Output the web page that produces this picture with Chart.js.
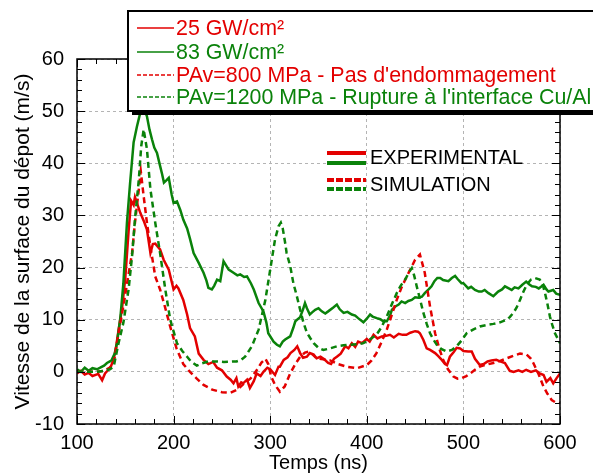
<!DOCTYPE html>
<html>
<head>
<meta charset="utf-8">
<script src="https://cdn.jsdelivr.net/npm/chart.js@4/dist/chart.umd.min.js"></script>
<style>
  body { margin: 0; background: #fff; }
</style>
</head>
<body>
<canvas id="chart" width="593" height="475"></canvas>
<script>
// --- data (t in ns, v in m/s) ---
var t25 = [100,104,108,112,116,122,126,129,132,135,138,140,143,146.5,150,153.4,156,158.6,160,162,165.5,169,172.4,176,178.5,181,186,189.7,195,200,203,205,210,214,217,222,226,231,236,241,245,250,255,259,262,265,267,270,272,276,279,283,286,290,293,297,300,305,308.6,310,314,318,321,325,328,331,334,338,341,345,348,352,356,360,363,366,369,373,377.6,381,384.5,388,391,395,400,403,407,411,415.5,420,424,428,433,437,441,445,450,453,455,458.6,462,465.5,470.7,474,477.6,481,483,486,490,493,496.6,500,505,508.6,512,517,521,525,529,534,538,543,548,552,557,561,565,570,575,579,583,586,590,593,596.5,600];
var v25 = [-0.3,0.2,-0.5,-0.2,-0.8,-0.4,-1.6,-0.3,0.3,1,2.5,4.2,8,12,18,27,32.8,32,33.5,32.4,30.5,29,27.3,22.8,24.5,24.6,23.5,21.5,19.6,15.8,16.5,16,13.8,11,8.4,6.8,3.5,2.3,1.5,1.9,0.8,0.3,-0.9,-1.5,-2.2,-1.2,-2.8,-2,-2.2,-1.5,-3.1,-1.8,-0.3,-0.8,0,0.8,0.5,-0.6,1,1,2.3,2.8,3.6,4.2,4.9,3.6,2.7,2.9,3.6,3.3,2.6,2.9,2.4,1.7,1.5,2.5,2.9,3.5,4.9,4.5,5.5,4.8,5.8,5.5,6.3,5.8,7.1,6.4,6.8,6.9,7.1,6.6,7.3,7.1,7.1,7.5,7.8,7.7,7.4,6.1,4.5,4.2,3.6,3,2.3,1.5,1.3,2.9,3.8,4.6,4.5,4,3.9,3.9,2.5,1.3,1.5,2,2.2,2.3,2,1.7,0.2,0,0.3,0,0.4,0,0.3,-0.3,-0.6,-1.9,-1.2,-2.2,-1.2,-0.3];

var t83 = [100,104,108,112,116,120.7,124,128,131,134,136,139,141.4,145,148,151.7,155,158.6,162,165.5,168,170,172.4,175,177.6,180,182.8,186,188,190,193,195,198,200,203.5,207,210,214,217,220.7,226,231,234,236,239.6,242,245,248.3,251.7,254,257,262,266,269,273,276,280,283,288,293,296,298,303.5,307,310,313,315.5,320.7,324,326,331,334,336,338,341,344,346.6,350,353.4,357,360,365,369,372,376,380,384.5,388,391,396.5,400,403.4,406,410.3,414,417,420.7,424,426,430,433,436,439.7,443,446.5,450,453.4,457,460,464,467,470,473,476,479,484.5,488,491.4,494,498,500,505,508,512,516,519,522,526,531,536,540,543,547,550,553,557,561,565,568,571,575,578,583,586,588,593,596,600];
var v83 = [0.5,0,0.8,0.2,0.7,0.5,0.8,1.2,1.7,2,2.3,3.5,5.5,10.6,17,28.6,36.3,44,47,49.7,50.5,50.2,49,46.5,44.6,43,42,39.5,38,36.3,36.8,37.2,34,32.4,32.7,31,29.2,27.5,25.5,22.8,20.9,19,17.5,16.1,15.8,16.5,17.7,17.4,21.2,20.5,19.6,19,18.5,18.7,18.2,18.3,17,15.8,13.2,11.6,9.5,7.4,5.8,5.2,4.9,5.8,6.2,6.8,8.5,9.7,10.5,12,13.2,12.2,11,11.5,11.9,12.2,11.6,11.2,11.6,12.3,12.9,12,11.3,11.5,11,10.8,10.3,9.5,10.2,11,10.6,10.3,10.1,9.7,9.7,10.8,11.9,12.6,12.9,13.5,13.2,13.6,13.8,14.3,14.2,14.4,15.1,15.8,16.4,17.4,18,18,17.6,17.4,18,18.4,17.8,17,17,16,16.3,15.7,15.4,15.4,15.7,15.1,14.5,15.4,15.8,16.4,16,15.7,16.2,16,16.7,17.3,16.8,16.4,16.3,16,16.7,15.8,15.4,15.7,15,14.8];

var tSim800 = [100,110,120,128,134,138,143,148,153,157,160,164,166,169,172.4,176,181,186,191,196,203,210,217,224,231,240,250,259,266,272,280,286,291,295,298,301,305,310,315,320.7,326,331,336,340,344,348,355,362,370,379,389.7,400,405,410,415,420.7,426,431,436,441.4,446,450,455,460,465.5,470.7,475,479,484,489.7,494,498,503,507,512,517,524,531,538,545,552,558.6,565.5,570,572.4,578,582.8,587,591.4,595,600];
var vSim800 = [0,0,0,0.2,0.8,1.7,7.4,12.6,18.3,22.8,28.6,35,38.5,33.7,28.6,24,18.3,15.8,12.5,9,4.5,1.5,0,-1.3,-2.5,-3.4,-3.9,-4,-3.4,-2.4,-1.2,0.3,1.8,2.5,1.5,-0.9,-2.5,-3.8,-2.8,-0.3,1.5,2.9,3.7,3.9,3.3,2.6,2.4,2.2,1.5,1,0.7,1.3,2.2,3.6,5.6,8.1,11,13.8,16.2,18.3,20,21.5,22.5,19,12.5,7.4,4.5,2.3,0.5,-0.9,-1.3,-1.2,-0.8,-0.3,0.4,1,1.4,1.7,2.1,2.6,3.1,3.5,3.3,2.5,1.7,-0.5,-2.8,-4.2,-5.4,-5.8,-6];

var tSim1200 = [100,110,120,128,134,138,143,148,153.4,157,160,164,166.5,169,172.4,176,181,186,191.4,196.5,203.5,209,214,218,224,229,236,245,252,265,270,274,281,288,295,300,305,308.6,311,313,315.5,317,320.7,324,327.6,331,334.5,338,341.4,345,350,355,362,369,376,383,390,396.5,403,410,415,420.7,426,431,435,439.7,444,446.6,449,451.7,455,458.6,462,465.5,469,472.4,477,482.8,488,493,498,503.4,510,517,524,531,538,545,548,551.7,555,558.6,562,565.5,570,574,579,582,584.5,587,589.6,592,594.8,600];
var vSim1200 = [0,0,0,0.2,0.5,1,5.5,9.4,15.8,22.2,29.2,36.9,43.3,46.5,42.7,35,28.6,22.8,15.8,10,5.5,4,2.9,2,1.2,1.6,2,2,1.9,2,2.3,2.9,4.9,8.1,13.8,19.6,25.4,27.9,28.6,27.5,24.7,22.8,20.3,17,14.5,11.9,9.4,7.5,6.5,5.5,4.6,4.2,4.5,4.9,5.1,5.2,5.3,5.5,6.2,7.1,8.5,10.6,13,15.1,16.5,17.7,19.2,19.9,18.5,16.4,14,11.3,9.2,7.4,6.2,5.2,4.4,3.9,4.2,4.9,6,7.4,8.1,8.7,9,9.2,9.5,10,10.5,11.3,12.3,13.8,15.3,16.7,17.7,18,17.7,16.8,15.1,13,10.6,9,7.4,5.5];

var seriesLabels = ['25 GW/cm²', '83 GW/cm²', "PAv=800 MPa - Pas d'endommagement", "PAv=1200 MPa - Rupture à l'interface Cu/Al"];
var groupLabels = ['EXPERIMENTAL', 'SIMULATION'];

var RED = '#e30000';
var GREEN = '#0a820a';

function pts(t, v) {
    return t.map(function(x, i) { return {x: x, y: v[i]}; });
}

// frame, inward ticks and the two legends, drawn on top of the lines
var decorPlugin = {
    id: 'decor',
    afterDraw: function(chart) {
        var ctx = chart.ctx;
        var a = chart.chartArea;
        var xs = chart.scales.x, ys = chart.scales.y;
        ctx.save();

        // frame
        ctx.strokeStyle = '#000';
        ctx.lineWidth = 1.5;
        ctx.strokeRect(a.left, a.top, a.right - a.left, a.bottom - a.top);

        // minor / major ticks pointing inwards
        ctx.lineWidth = 1;
        ctx.beginPath();
        for (var t = 100; t <= 600; t += 20) {
            var px = Math.round(xs.getPixelForValue(t)) + 0.5;
            var len = (t % 100 === 0) ? 8 : 5;
            ctx.moveTo(px, a.bottom); ctx.lineTo(px, a.bottom - len);
            ctx.moveTo(px, a.top); ctx.lineTo(px, a.top + len);
        }
        for (var v = -10; v <= 60; v += 2) {
            var py = Math.round(ys.getPixelForValue(v)) + 0.5;
            var l = (v % 10 === 0) ? 8 : 5;
            ctx.moveTo(a.left, py); ctx.lineTo(a.left + l, py);
            ctx.moveTo(a.right, py); ctx.lineTo(a.right - l, py);
        }
        ctx.stroke();

        // inset legend (EXPERIMENTAL / SIMULATION)
        ctx.lineWidth = 4;
        ctx.setLineDash([]);
        [[153, RED], [163, GREEN]].forEach(function(s) {
            ctx.strokeStyle = s[1];
            ctx.beginPath(); ctx.moveTo(327, s[0]); ctx.lineTo(366, s[0]); ctx.stroke();
        });
        ctx.setLineDash([7, 2]);
        [[180, RED], [189, GREEN]].forEach(function(s) {
            ctx.strokeStyle = s[1];
            ctx.beginPath(); ctx.moveTo(327, s[0]); ctx.lineTo(366, s[0]); ctx.stroke();
        });
        ctx.setLineDash([]);
        ctx.fillStyle = '#000';
        ctx.font = '20px "Liberation Sans", Arial, sans-serif';
        ctx.textBaseline = 'middle';
        ctx.fillText(groupLabels[0], 370, 158);
        ctx.fillText(groupLabels[1], 370, 185);

        // main legend box with shadow
        var bx = 128, by = 11, bw = 480, bh = 100;
        ctx.fillStyle = '#000';
        ctx.fillRect(bx + 4, by + 4, bw, bh);
        ctx.fillStyle = '#fff';
        ctx.fillRect(bx, by, bw, bh);
        ctx.strokeStyle = '#000';
        ctx.lineWidth = 2;
        ctx.strokeRect(bx, by, bw, bh);

        var rows = [28, 52, 75, 97];
        var cols = [RED, GREEN, RED, GREEN];
        ctx.font = '21.4px "Liberation Sans", Arial, sans-serif';
        for (var i = 0; i < 4; i++) {
            ctx.strokeStyle = cols[i];
            ctx.lineWidth = 1.5;
            ctx.setLineDash(i < 2 ? [] : [4, 2]);
            ctx.beginPath(); ctx.moveTo(137, rows[i]); ctx.lineTo(174, rows[i]); ctx.stroke();
            ctx.fillStyle = cols[i];
            ctx.fillText(seriesLabels[i], 176, rows[i] + 1);
        }
        ctx.restore();
    }
};

var ctx = document.getElementById('chart').getContext('2d');
new Chart(ctx, {
    type: 'line',
    data: {
        datasets: [
            { data: pts(tSim1200, vSim1200), borderColor: GREEN, borderWidth: 2.5, borderDash: [6, 4] },
            { data: pts(tSim800, vSim800), borderColor: RED, borderWidth: 2.5, borderDash: [6, 4] },
            { data: pts(t83, v83), borderColor: GREEN, borderWidth: 2.5 },
            { data: pts(t25, v25), borderColor: RED, borderWidth: 2.5 }
        ]
    },
    options: {
        responsive: false,
        animation: false,
        parsing: false,
        elements: { point: { radius: 0 }, line: { tension: 0, fill: false } },
        layout: { padding: { top: 59, right: 33, left: 0, bottom: 0 } },
        plugins: { legend: { display: false }, tooltip: { enabled: false } },
        scales: {
            x: {
                type: 'linear', min: 100, max: 600,
                ticks: { stepSize: 100, color: '#000', padding: 7, maxRotation: 0,
                         font: { family: '"Liberation Sans", Arial, sans-serif', size: 20 } },
                grid: { color: '#b4b4b4', drawTicks: false },
                border: { display: false, dash: [3, 3] },
                title: { display: true, text: 'Temps (ns)', color: '#000', padding: { top: 0, bottom: 0 },
                         font: { family: '"Liberation Sans", Arial, sans-serif', size: 20 } },
                afterFit: function(scale) { scale.height = 51; }
            },
            y: {
                min: -10, max: 60,
                ticks: { stepSize: 10, color: '#000', padding: 13,
                         font: { family: '"Liberation Sans", Arial, sans-serif', size: 20 } },
                grid: { color: '#b4b4b4', drawTicks: false },
                border: { display: false, dash: [3, 3] },
                title: { display: true, text: 'Vitesse de la surface du dépot (m/s)', color: '#000',
                         padding: { top: 11, bottom: 0 },
                         font: { family: '"Liberation Sans", Arial, sans-serif', size: 21 } },
                afterFit: function(scale) { scale.width = 77; }
            }
        }
    },
    plugins: [decorPlugin]
});
</script>
</body>
</html>
